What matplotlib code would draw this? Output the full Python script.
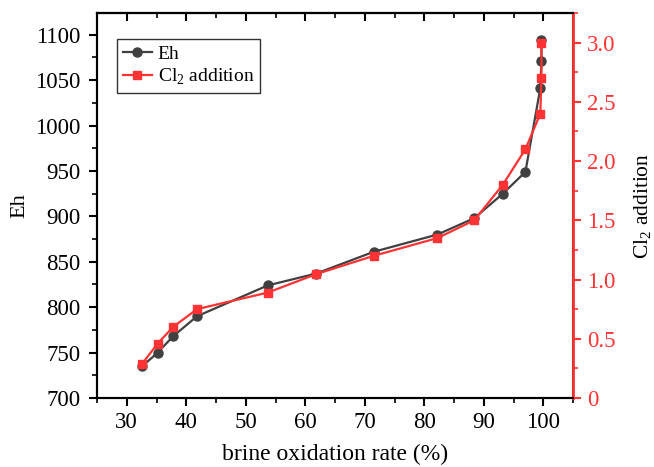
import matplotlib
matplotlib.use("Agg")
import matplotlib.pyplot as plt
from matplotlib.ticker import MultipleLocator

plt.rcParams['font.family'] = ['Liberation Serif', 'DejaVu Serif']
plt.rcParams['mathtext.fontset'] = 'custom'
plt.rcParams['mathtext.rm'] = 'Liberation Serif'

oxidation_rate = [32.6, 35.2, 37.8, 41.8, 53.7, 61.8, 71.5, 82.2, 88.4, 93.2, 97.0, 99.5, 99.7, 99.7]
eh = [735, 750, 768, 790, 824, 837, 861, 880, 898, 925, 949, 1041, 1071, 1094]
cl2_addition = [0.29, 0.46, 0.60, 0.75, 0.89, 1.045, 1.20, 1.35, 1.50, 1.80, 2.10, 2.40, 2.70, 3.00]

black = '#404040'
red = '#ff3333'

fig = plt.figure(figsize=(6.54, 4.67), dpi=100)
ax = fig.add_axes([97/654, 1 - 398/467, (573 - 97)/654, (398 - 13)/467])
ax2 = ax.twinx()

l1, = ax.plot(oxidation_rate, eh, '-o', color=black, lw=1.6, ms=6.5, label='Eh', zorder=2)
l2, = ax2.plot(oxidation_rate, cl2_addition, '-s', color=red, lw=1.6, ms=5.5, label='Cl$_2$ addition', zorder=3)

ax.set_xlim(25, 105)
ax.set_ylim(700, 1124)
ax2.set_ylim(0, 3.25)

ax.xaxis.set_major_locator(MultipleLocator(10))
ax.xaxis.set_minor_locator(MultipleLocator(5))
ax.yaxis.set_major_locator(MultipleLocator(50))
ax.yaxis.set_minor_locator(MultipleLocator(25))
ax2.yaxis.set_minor_locator(MultipleLocator(0.25))
ax2.set_yticks([0, 0.5, 1.0, 1.5, 2.0, 2.5, 3.0])
ax2.set_yticklabels(['0', '0.5', '1.0', '1.5', '2.0', '2.5', '3.0'])

for a in (ax, ax2):
    for s in a.spines.values():
        s.set_linewidth(1.5)

ax.tick_params(axis='both', which='major', direction='out', length=6, width=1.5, labelsize=16.5, top=False, pad=4)
ax.tick_params(axis='both', which='minor', direction='out', length=3.5, width=1.2)
ax.tick_params(axis='y', which='both', right=False)
ax.tick_params(axis='y', which='major', pad=6)

sec = ax.secondary_xaxis('top')
sec.xaxis.set_major_locator(MultipleLocator(10))
sec.xaxis.set_minor_locator(MultipleLocator(5))
sec.tick_params(which='major', direction='in', length=6, width=1.5, labeltop=False)
sec.tick_params(which='minor', direction='in', length=3.5, width=1.2)
sec.spines['top'].set_linewidth(1.5)

ax2.spines['right'].set_color(red)
ax2.spines['right'].set_linewidth(2)
ax2.tick_params(axis='y', which='major', direction='out', length=6, width=1.5, colors=red, labelsize=16.5, pad=4)
ax2.tick_params(axis='y', which='minor', direction='out', length=3.5, width=1.2, colors=red)

ax.set_xlabel('brine oxidation rate (%)', fontsize=17, labelpad=8)
ax.set_ylabel('Eh', fontsize=16, labelpad=4)
ax2.set_ylabel('Cl$_2$ addition', fontsize=15.5, labelpad=12)

leg = ax.legend(handles=[l1, l2], loc='upper left', bbox_to_anchor=(0.042, 0.932),
                borderaxespad=0, fontsize=14, frameon=True, fancybox=False, edgecolor='black',
                handlelength=1.5, borderpad=0.3, labelspacing=0.2, handletextpad=0.3)
leg.get_frame().set_linewidth(1.0)
leg.set_zorder(10)

fig.savefig('out.png', dpi=100)
